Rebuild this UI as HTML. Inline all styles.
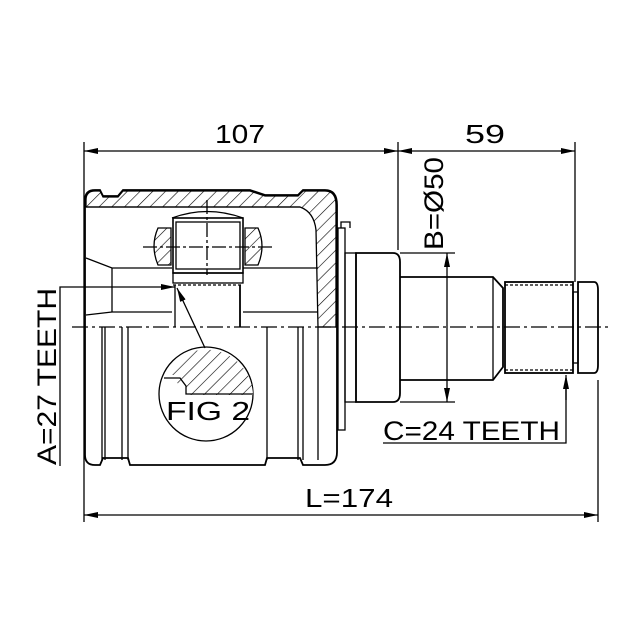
<!DOCTYPE html>
<html><head><meta charset="utf-8"><style>
html,body{margin:0;padding:0;background:#fff;}
svg{display:block}
text{font-family:"Liberation Sans",sans-serif;fill:#000}
</style></head><body>
<svg width="640" height="640" viewBox="0 0 640 640" xmlns="http://www.w3.org/2000/svg">
<defs>
<pattern id="h" patternUnits="userSpaceOnUse" width="9" height="9" patternTransform="rotate(45)">
<rect width="9" height="9" fill="#fff"/><line x1="0" y1="0" x2="0" y2="9" stroke="#000" stroke-width="1.2"/></pattern>
<marker id="a" markerWidth="14" markerHeight="6" refX="14" refY="3" orient="auto" markerUnits="userSpaceOnUse"><path d="M0,0 L14,3 L0,6 z" fill="#000"/></marker>
</defs>
<g stroke="#000" fill="none" stroke-width="1.3">
<line x1="84" y1="142" x2="84" y2="522"/>
<line x1="398" y1="142" x2="398" y2="250"/>
<line x1="575" y1="142" x2="575" y2="282"/>
<line x1="598" y1="380" x2="598" y2="522"/>
<line x1="130" y1="151" x2="84" y2="151" marker-end="url(#a)"/>
<line x1="130" y1="151" x2="398" y2="151" marker-end="url(#a)"/>
<line x1="450" y1="151" x2="398" y2="151" marker-end="url(#a)"/>
<line x1="450" y1="151" x2="575" y2="151" marker-end="url(#a)"/>
<line x1="300" y1="515" x2="84" y2="515" marker-end="url(#a)"/>
<line x1="300" y1="515" x2="598" y2="515" marker-end="url(#a)"/>
<line x1="400" y1="253" x2="455" y2="253"/>
<line x1="400" y1="402" x2="455" y2="402"/>
<line x1="447" y1="330" x2="447" y2="253" marker-end="url(#a)"/>
<line x1="447" y1="330" x2="447" y2="402" marker-end="url(#a)"/>
<polyline points="383,443 566,443 566,378" />
<line x1="566" y1="400" x2="566" y2="375" marker-end="url(#a)"/>
<polyline points="60,466 60,287 120,287"/>
<line x1="120" y1="287" x2="175" y2="287" marker-end="url(#a)"/>
<line x1="205" y1="348" x2="177" y2="288" marker-end="url(#a)"/>

<path d="M85,200 Q85,190 95,190 L100,190 L103,196 L118,196 L123,190 L250,190 L265,195 L298,195 L303,190 L325,190 Q337,190 337,205 L337,452 Q337,465 325,465 L303,465 L300,458 L267,458 L265,465 L130,465 L128,458 L103,458 L100,465 L95,465 Q85,465 85,455 Z" stroke-width="1.8"/>
<path d="M86,207 L86,200 Q86,191 95,191 L100,191 L103,197 L118,197 L123,191 L250,191 L265,196 L298,196 L303,191 L325,191 Q336,191 336,205 L336,327 L318,327 L316,230 Q314,212 300,207 Z" fill="url(#h)"/>
<line x1="86" y1="207" x2="300" y2="207"/>
<polyline points="86,258 112,268 172,268"/>
<polyline points="86,315 112,312 172,312"/>
<line x1="112" y1="268" x2="112" y2="312"/>
<line x1="243" y1="268" x2="318" y2="268"/>
<line x1="243" y1="312" x2="318" y2="312"/>
<path d="M172,218 Q207,205 243,218"/>
<rect x="173" y="218" width="70" height="55" stroke-width="1.6"/>
<rect x="176" y="222" width="64" height="47"/>
<rect x="173" y="273" width="70" height="10"/>
<line x1="173" y1="285" x2="243" y2="285" stroke-dasharray="3,2"/>
<line x1="175" y1="285" x2="175" y2="327"/>
<line x1="240" y1="285" x2="240" y2="327" stroke-width="1.8"/>
<path d="M171,228 L158,228 Q150,246 158,265 L171,265 Z" fill="url(#h)"/>
<path d="M245,228 L258,228 Q266,246 258,265 L245,265 Z" fill="url(#h)"/>
<line x1="143" y1="247" x2="272" y2="247" stroke-dasharray="14,3,3,3"/>
<line x1="207" y1="200" x2="207" y2="275" stroke-dasharray="14,3,3,3"/>
<line x1="102" y1="327" x2="102" y2="460"/><line x1="105" y1="327" x2="105" y2="460"/>
<line x1="122" y1="327" x2="122" y2="460"/><line x1="128" y1="327" x2="128" y2="460"/>
<line x1="267" y1="327" x2="267" y2="460"/>
<line x1="298" y1="327" x2="298" y2="460"/><line x1="303" y1="327" x2="303" y2="460"/>
<line x1="318" y1="327" x2="318" y2="460"/>
<circle cx="206" cy="394" r="47"/>
<path d="M166,372 A47,47 0 0 1 253,395 L230,395 L188,395 L186,386 L178,386 L176,375 L164,375 Z" fill="url(#h)" stroke="none"/>
<path d="M164,378 L180,378 L186,386 L186,394 L253,394"/>
<rect x="338" y="228" width="7" height="202"/>
<path d="M341,228 L341,222 L350,222 L350,228" />
<rect x="345" y="253" width="11" height="149"/>
<path d="M356,253 L393,253 Q400,253 400,262 L400,393 Q400,402 393,402 L356,402 Z" stroke-width="1.8"/>
<path d="M400,277 L493,277 L503,288 L503,367 L493,380 L400,380" stroke-width="1.8"/>
<line x1="493" y1="277" x2="493" y2="380"/>
<rect x="505" y="282" width="68" height="91" stroke-width="1.8"/>
<line x1="505" y1="285" x2="573" y2="285" stroke-dasharray="3,2"/>
<line x1="505" y1="370" x2="573" y2="370" stroke-dasharray="3,2"/>
<rect x="573" y="292" width="5" height="71"/>
<path d="M578,282 L594,282 Q598,282 598,290 L598,365 Q598,373 594,373 L578,373 Z" stroke-width="1.8"/>
<line x1="72" y1="327" x2="612" y2="327" stroke-dasharray="16,4,3,4" stroke-width="1.2"/>
</g>
<text x="215" y="143" font-size="26" textLength="50" lengthAdjust="spacingAndGlyphs">107</text>
<text x="465" y="143" font-size="26" textLength="40" lengthAdjust="spacingAndGlyphs">59</text>
<text x="305" y="507" font-size="26" textLength="88" lengthAdjust="spacingAndGlyphs">L=174</text>
<text x="383" y="440" font-size="27" textLength="177" lengthAdjust="spacingAndGlyphs">C=24 TEETH</text>
<text x="166" y="420" font-size="26" textLength="84" lengthAdjust="spacingAndGlyphs">FIG 2</text>
<text transform="translate(443,250) rotate(-90)" font-size="27" textLength="93" lengthAdjust="spacingAndGlyphs">B=Ø50</text>
<text transform="translate(56,465) rotate(-90)" font-size="27" textLength="177" lengthAdjust="spacingAndGlyphs">A=27 TEETH</text>
</svg>
</body></html>
